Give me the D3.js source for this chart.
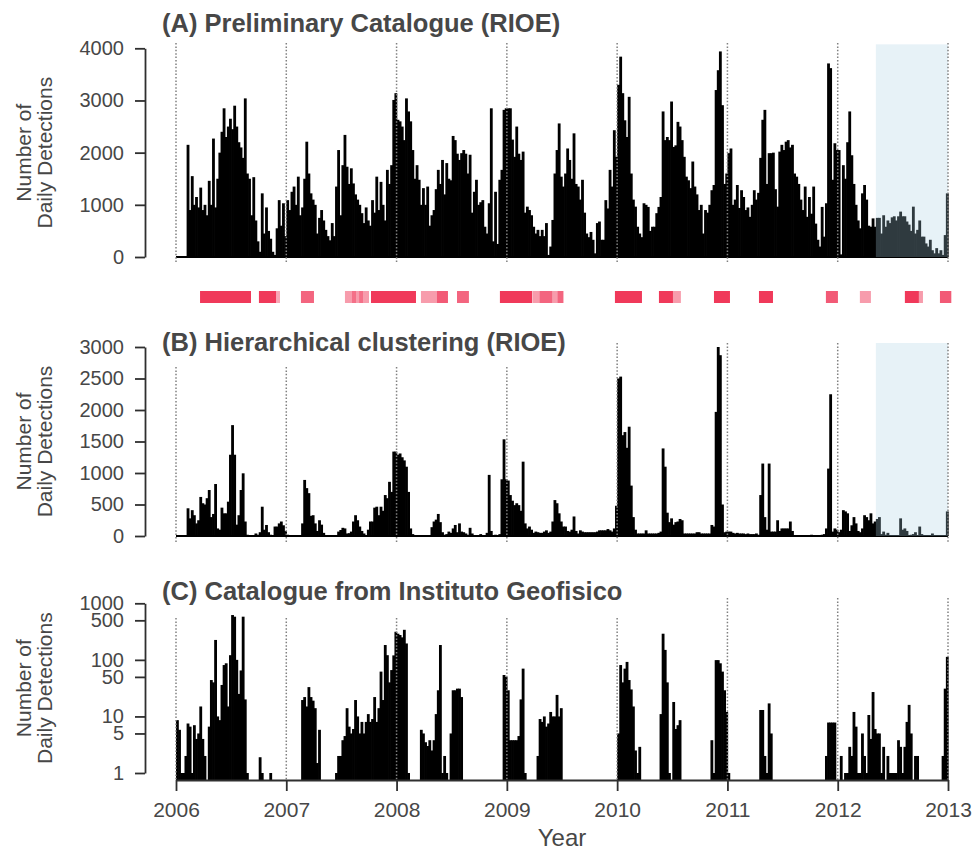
<!DOCTYPE html>
<html><head><meta charset="utf-8">
<script src="https://cdn.jsdelivr.net/npm/d3@7"></script>
<style>
body{margin:0;background:#fff}
text{font-family:"Liberation Sans",Arial,Helvetica,sans-serif}
</style>
</head><body>
<svg id="chart" width="974" height="853"></svg>
<script>
// ---------------- DATA (weekly peak of daily detections, 52 weeks per year, 2006-2012) ----------------
const startYear = 2006;
const weeksPerYear = 52;
const yearTicks = [2006, 2007, 2008, 2009, 2010, 2011, 2012, 2013];

const detectionsA = [
  // 2006
  0,0,0,0,0,2150,900,1550,1000,1150,950,1330,900,1000,800,1460,1000,2270,950,1500,2000,2400,2850,2300,2500,2650,2450,2900,2500,2200,2100,1900,3040,1600,1500,800,1530,700,300,100,1220,450,950,500,350,100,40,550,1090,600,1030,400,
  // 2007
  1090,900,1250,1350,1000,1540,800,950,1500,2210,1600,1220,1100,1000,450,750,900,700,520,400,320,650,400,1350,2050,800,1760,2340,1730,1400,1700,1410,1200,1100,1000,840,650,950,700,600,1090,850,1540,900,1440,1000,700,1670,1400,1760,3010,3140,
  // 2008
  2630,2600,2500,2240,3040,2790,2600,2050,1500,1760,1480,1000,1320,1000,1350,600,800,900,1300,1670,1400,1860,1200,1800,1500,1470,2320,2240,1980,1860,1990,2050,1980,1600,1960,850,1250,1480,1000,1050,1090,580,450,1030,2850,300,1250,250,1480,1670,2820,2850,
  // 2009
  2850,2850,2250,1920,2500,1980,1860,2020,850,965,900,800,580,450,520,400,520,400,650,40,200,710,1600,2050,2560,1540,1350,1600,2080,1860,1500,2370,1400,1350,1100,1480,850,450,380,480,330,70,650,680,330,330,1090,930,1670,1350,2430,1920,
  // 2010
  3300,3840,3140,2620,2300,3070,1600,1100,965,580,450,380,1030,1000,960,500,580,580,840,960,1150,2790,2240,2300,2240,2980,2110,2140,2590,2500,2240,1920,1540,1470,1320,1830,1350,1200,900,1000,450,900,850,1000,1280,1380,3200,3580,3940,2910,1400,1600,
  // 2011
  1990,2080,1000,1100,1380,940,1280,1150,900,950,770,1000,1280,1100,1230,1900,2630,2820,1400,1990,1990,2000,1300,965,2020,2150,2050,2210,2240,2100,2150,1600,1540,1400,1100,900,1350,770,1150,830,1350,640,330,200,960,390,1030,3710,3620,1480,2180,2050,
  // 2012
  2050,50,1760,1500,2200,2790,1950,1400,1000,700,550,1220,1380,1100,600,580,740,580,750,750,450,800,580,700,650,760,780,700,780,870,780,780,680,620,500,965,450,520,700,390,390,260,200,330,130,70,170,70,130,40,420,1220
];

const detectionsB = [
  // 2006
  0,0,0,0,0,440,280,410,330,200,250,620,520,500,600,730,300,350,825,120,100,450,360,360,545,1290,1760,1290,180,330,730,995,230,20,10,0,5,40,20,60,465,100,175,60,20,10,150,150,200,230,170,80,
  // 2007
  20,10,5,10,10,5,10,200,890,760,680,320,330,200,80,250,180,50,15,10,10,10,10,10,70,95,130,120,40,45,70,230,330,250,150,80,40,10,100,230,230,450,465,330,465,400,650,600,860,700,1340,1340,
  // 2008
  1290,1310,1250,1200,1100,700,120,30,10,10,5,5,5,5,5,5,140,230,260,350,220,60,20,30,70,50,120,175,60,200,70,60,40,20,130,40,10,10,10,30,10,10,50,970,80,10,20,10,30,900,1535,900,
  // 2009
  880,650,560,490,520,490,400,1180,200,120,150,100,50,70,60,50,50,70,90,50,70,230,570,520,360,230,150,150,80,70,100,310,80,40,90,70,60,60,60,60,60,60,70,90,90,90,90,110,90,70,120,480,
  // 2010
  2500,2530,1600,1650,1400,1735,800,300,100,40,40,40,40,90,40,40,40,40,40,50,70,1390,1100,370,220,280,180,220,230,270,250,40,40,40,40,40,40,60,60,40,40,40,40,40,175,150,1970,3000,2870,500,60,70,
  // 2011
  70,70,50,40,50,40,40,40,30,40,30,30,30,40,20,650,1150,300,100,1150,70,70,70,250,80,120,120,120,120,230,80,10,10,10,10,10,10,10,10,20,10,10,10,10,20,30,120,1070,2250,70,120,100,
  // 2012
  60,100,410,390,360,80,170,300,200,80,60,120,330,300,250,360,200,230,270,300,30,70,20,50,10,10,10,10,10,280,100,120,80,10,20,30,60,10,150,30,10,10,10,10,40,10,10,10,10,10,10,390
];

const detectionsC = [
  // 2006
  8.6,5.8,1,1,2,7.5,6.6,1,7,4,5,15,4,2,0,6.6,44,40,225,10,8.6,36,81,87,15,121,620,580,100,25,65,580,20,1,0,0,0,0,0,1.9,1,0,0,0,1,0,0,0,0,0,0,0,
  // 2007
  0,0,0,0,0,0,0,19.5,22,15,33,22,19,14,1.5,5.8,0,0,0,0,0,0,0,1,2,2,3.8,4.5,14,6.6,5,6,19.5,10,5,8,5,8,11,8,9,22,8,14,62,19.5,183,121,40,66,120,314,
  // 2008
  290,275,250,340,195,1,0,0,0,0,0,5.8,5,3.5,3,3.8,2.5,3.8,11,29,183,1,2,1,0,5,29,29,31,31,22,0,0,0,0,0,0,0,0,0,0,0,0,0,0,0,0,0,0,0,54,50,
  // 2009
  29,3.8,3.8,3.8,3.8,4.5,20,70,1,0,0,0,0,0,2,9,8,10,6.6,7.5,12,10,10,24,10,14,0,0,0,0,0,0,0,0,0,0,0,0,0,0,0,0,0,0,0,0,0,0,0,0,0,0,
  // 2010
  5,81,40,70,92,44,30,15,2.5,1,2.9,0,0,0,0,0,0,0,0,0,11,290,150,40,1,0,18,6,7,8.6,0,0,0,0,0,0,0,0,0,0,0,0,0,0,3.8,1,99,99,87,62,29,12,
  // 2011
  1,0,0,0,0,0,0,0,0,0,0,0,0,0,0,13,13,2,1,17,5,0,0,0,0,0,0,0,0,0,0,0,0,0,0,0,0,0,0,0,0,0,0,0,0,0,2,7.8,7.8,7.8,7.8,0,
  // 2012
  0,2,0,1,1,2.9,2,12,6.6,1,1,5,2,1,10.6,4,27,6,5,5,1,2.9,0,2,1,1,1,1,3.8,2.9,1,2.9,8,16,5,0,2,2,0,0,0,0,0,0,0,0,0,0,0,2,31,113
];

const ticksA = [0, 1000, 2000, 3000, 4000];
const ticksB = [0, 500, 1000, 1500, 2000, 2500, 3000];
const ticksC = [1, 5, 10, 50, 100, 500, 1000];

const shadedPeriod = [2012.346, 2013.0];

// red strip between panels (A) and (B): start year, end year, intensity
const stripStart = [2006.218,2006.752,2006.907,2007.133,2007.532,2007.596,2007.632,2007.660,2007.697,2007.768,2008.221,2008.366,2008.548,2008.937,2009.231,2009.295,2009.413,2009.458,2009.980,2010.379,2010.506,2010.878,2011.286,2011.893,2012.201,2012.609,2012.736,2012.927];
const stripEnd   = [2006.680,2006.907,2006.943,2007.251,2007.596,2007.632,2007.660,2007.697,2007.750,2008.176,2008.366,2008.466,2008.656,2009.228,2009.295,2009.413,2009.458,2009.513,2010.225,2010.506,2010.578,2011.023,2011.413,2012.002,2012.301,2012.736,2012.773,2013.030];
const stripAlpha = [0.9,0.9,0.4,0.7,0.45,0.65,0.45,0.65,0.45,0.9,0.45,0.75,0.7,0.9,0.45,0.7,0.45,0.7,0.9,0.9,0.45,0.9,0.9,0.75,0.45,0.9,0.45,0.75];

// ---------------- LAYOUT ----------------
const svg = d3.select("#chart");
const textColor = "#474747";
const axisColor = "#2f2f2f";
const tickFont = 20;

const x = d3.scaleLinear().domain([2006, 2013]).range([176, 948]);

const logFloor = 0.75;
const panels = [
  { title: "(A) Preliminary Catalogue (RIOE)", values: detectionsA, ticks: ticksA,
    y: d3.scaleLinear().domain([0, 4000]).range([257, 48.3]), log: false,
    titleY: 32, lineTop: 43, lineBottom: 263, clearTop: 43, shade: true },
  { title: "(B) Hierarchical clustering (RIOE)", values: detectionsB, ticks: ticksB,
    y: d3.scaleLinear().domain([0, 3000]).range([536, 347]), log: false,
    titleY: 351, lineTop: 343, lineBottom: 543, clearTop: 367, shade: true },
  { title: "(C) Catalogue from Instituto Geofisico", values: detectionsC, ticks: ticksC,
    y: d3.scaleLog().domain([1, 1000]).range([773, 603.3]), log: true,
    titleY: 600, lineTop: 598, lineBottom: 780, clearTop: 618, shade: false }
];

function weekStart(i) { return startYear + Math.floor(i / weeksPerYear) + (i % weeksPerYear) / weeksPerYear; }

panels.forEach(p => {
  const g = svg.append("g");
  const base = p.log ? p.y(logFloor) : p.y(0);
  const bars = p.values.map((v, i) => ({ t0: weekStart(i), t1: weekStart(i) + 1 / weeksPerYear, v }))
                       .filter(d => d.v > 0);

  g.append("g").selectAll("rect").data(bars).join("rect")
    .attr("x", d => x(d.t0))
    .attr("width", d => x(d.t1) - x(d.t0) + 0.7)
    .attr("y", d => p.y(d.v))
    .attr("height", d => Math.max(0, base - p.y(d.v)))
    .attr("fill", "#000");

  if (!p.log) {
    g.append("line")
      .attr("x1", x(2006)).attr("x2", x(2013))
      .attr("y1", base).attr("y2", base)
      .attr("stroke", "#000").attr("stroke-width", 2);
  }

  if (p.shade) {
    const top = p.y(p.ticks[p.ticks.length - 1]) - 4;
    g.append("rect")
      .attr("x", x(shadedPeriod[0])).attr("width", x(shadedPeriod[1]) - x(shadedPeriod[0]))
      .attr("y", top).attr("height", base - top)
      .attr("fill", "rgb(168,207,228)").attr("fill-opacity", 0.28);
  }

  // title
  const title = g.append("text")
    .attr("x", 162).attr("y", p.titleY)
    .attr("font-size", 25.5).attr("font-weight", "bold")
    .attr("fill", textColor).text(p.title);
  const tb = title.node().getBBox();
  const titleRight = tb.x + tb.width + 8;

  // dotted year lines
  g.append("g").selectAll("line").data(yearTicks).join("line")
    .attr("x1", d => x(d)).attr("x2", d => x(d))
    .attr("y1", d => x(d) < titleRight ? p.clearTop : p.lineTop)
    .attr("y2", p.lineBottom)
    .attr("stroke", "#808080").attr("stroke-width", 1.5)
    .attr("stroke-dasharray", "1.5,1.9");

  // y axis
  const ax = d3.axisLeft(p.y).tickValues(p.ticks).tickSize(10).tickSizeOuter(0).tickPadding(11)
    .tickFormat(d3.format("d"));
  const ag = g.append("g").attr("transform", "translate(145,0)").call(ax);
  ag.select(".domain").attr("stroke", axisColor).attr("stroke-width", 1.8);
  ag.selectAll(".tick line").attr("stroke", axisColor).attr("stroke-width", 1.8);
  ag.selectAll(".tick text").attr("fill", textColor).attr("font-size", tickFont)
    .attr("font-family", '"Liberation Sans",Arial,sans-serif');

  // y label
  const r = p.y.range();
  const cy = (r[0] + r[1]) / 2;
  const lab = g.append("g").attr("font-size", 21).attr("fill", textColor).attr("text-anchor", "middle");
  lab.append("text").attr("transform", `translate(31,${cy}) rotate(-90)`).text("Number of");
  lab.append("text").attr("transform", `translate(52,${cy}) rotate(-90)`).text("Daily Detections");
});

// red strip
svg.append("g").selectAll("rect").data(stripStart.map((s, i) => ({ s, e: stripEnd[i], a: stripAlpha[i] })))
  .join("rect")
  .attr("x", d => x(d.s)).attr("width", d => x(d.e) - x(d.s))
  .attr("y", 291).attr("height", 12)
  .attr("fill", "#ee2348").attr("fill-opacity", d => d.a);

// x axis (bottom panel)
const xa = d3.axisBottom(x).tickValues(yearTicks).tickFormat(d3.format("d")).tickSize(11).tickSizeOuter(0).tickPadding(11);
const xg = svg.append("g").attr("transform", "translate(0,780)").call(xa);
xg.select(".domain").attr("stroke", axisColor).attr("stroke-width", 1.8);
xg.selectAll(".tick line").attr("stroke", axisColor).attr("stroke-width", 1.8);
xg.selectAll(".tick text").attr("fill", textColor).attr("font-size", 21)
  .attr("font-family", '"Liberation Sans",Arial,sans-serif');

svg.append("text").attr("x", (x(2006) + x(2013)) / 2).attr("y", 846)
  .attr("text-anchor", "middle").attr("font-size", 24).attr("fill", textColor).text("Year");
</script>
</body></html>
